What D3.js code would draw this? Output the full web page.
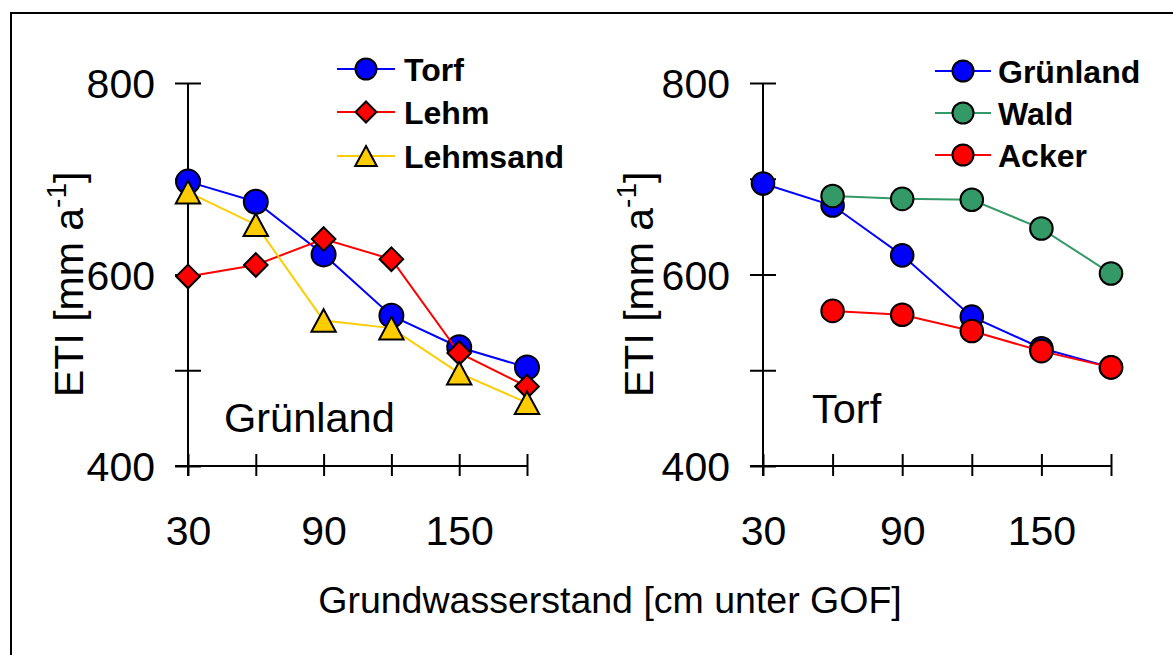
<!DOCTYPE html>
<html><head><meta charset="utf-8">
<script src="https://cdn.jsdelivr.net/npm/d3@7/dist/d3.min.js"></script>
<style>
html,body{margin:0;padding:0;background:#fff;overflow:hidden}
text{font-family:"Liberation Sans",Arial,sans-serif}
</style></head>
<body><svg id="c" width="1173" height="655"></svg>
<script>
// ---- data ----
const depths = [30, 60, 90, 120, 150, 180];
const xTickLabels = [30, 90, 150];
const yMajorTicks = [400, 600, 800];
const yAllTicks = [400, 500, 600, 700, 800];

// left panel: Grünland, by soil
const leftNames = ["Torf", "Lehm", "Lehmsand"];
const torf     = [697, 676, 621, 557, 524, 503];
const lehm     = [598, 610, 637, 616, 518, 483];
const lehmsand = [686, 652, 552, 544, 497, 466];

// right panel: Torf, by land use
const rightNames = ["Grünland", "Wald", "Acker"];
const gruenland = [695, 672, 620, 556, 523, 503];
const wald      = [null, 682, 679, 678, 648, 601];
const acker     = [null, 562, 558, 541, 520, 503];

const svg = d3.select("#c");
const FONT = '"Liberation Sans",Arial,sans-serif';

// outer frame
svg.append("rect").attr("x",11).attr("y",13).attr("width",1200).attr("height",700)
  .attr("fill","none").attr("stroke","#000").attr("stroke-width",2);

const y = d3.scaleLinear().domain([400,800]).range([466,83]);

function symbolPath(shape, s){
  if(shape==="diamond") return `M0,${-s}L${s},0L0,${s}L${-s},0Z`;
  if(shape==="triangle") return `M0,${-s}L${s*1.08},${s}L${-s*1.08},${s}Z`;
}
function drawMarker(g, shape, cx, cy, s, fill){
  if(shape==="circle"){
    g.append("circle").attr("cx",cx).attr("cy",cy).attr("r",s)
      .attr("fill",fill).attr("stroke","#000").attr("stroke-width",2);
  } else {
    g.append("path").attr("d",symbolPath(shape,s))
      .attr("transform",`translate(${cx},${cy})`)
      .attr("fill",fill).attr("stroke","#000").attr("stroke-width",2).attr("stroke-linejoin","miter");
  }
}

function panel(opts){
  const x = d3.scaleLinear().domain([30,180]).range(opts.xr);
  const g = svg.append("g");
  const x0 = opts.xr[0];

  // y axis
  const ya = d3.axisLeft(y).tickValues(yAllTicks)
    .tickFormat(d => yMajorTicks.includes(d) ? d : "").tickSize(13).tickPadding(20);
  const yg = g.append("g").attr("transform",`translate(${x0},0)`).call(ya);
  yg.select(".domain").remove();
  yg.selectAll(".tick line").attr("x1",-13).attr("x2",13).attr("stroke","#000").attr("stroke-width",2);
  yg.selectAll(".tick text").attr("font-size",41).attr("fill","#000").attr("font-family",FONT).attr("dy","0.36em");
  g.append("line").attr("x1",x0).attr("x2",x0).attr("y1",y(800)).attr("y2",476)
    .attr("stroke","#000").attr("stroke-width",2);

  // x axis
  const xa = d3.axisBottom(x).tickValues(depths)
    .tickFormat(d => xTickLabels.includes(d) ? d : "").tickSize(10).tickPadding(40);
  const xg = g.append("g").attr("transform",`translate(0,${y(400)})`).call(xa);
  xg.select(".domain").remove();
  xg.selectAll(".tick line").attr("y1",-12).attr("y2",10).attr("stroke","#000").attr("stroke-width",2);
  xg.selectAll(".tick text").attr("font-size",41).attr("fill","#000").attr("font-family",FONT);
  g.append("line").attr("x1",x0-13).attr("x2",opts.xr[1]).attr("y1",y(400)).attr("y2",y(400))
    .attr("stroke","#000").attr("stroke-width",2);

  // y title
  const t = g.append("text").attr("transform",`translate(${opts.ytx},397) rotate(-90)`)
    .attr("font-size",41).attr("fill","#000");
  t.append("tspan").text("ETI [mm a");
  t.append("tspan").attr("font-size",28).attr("dy",-17).text("-1");
  t.append("tspan").attr("dy",17).text("]");

  // annotation
  g.append("text").attr("x",opts.ann[0]).attr("y",opts.ann[1]).attr("font-size",41.5)
    .attr("fill","#000").text(opts.annText);

  // series
  opts.series.forEach(s => {
    const pts = depths.map((d,i)=>[d,s.values[i]]).filter(p=>p[1]!=null);
    g.append("path").datum(pts)
      .attr("d", d3.line().x(p=>x(p[0])).y(p=>y(p[1])))
      .attr("fill","none").attr("stroke",s.color).attr("stroke-width",2);
    pts.forEach(p => drawMarker(g, s.shape, x(p[0]), y(p[1]), s.size, s.fill));
  });

  // legend
  opts.series.forEach((s,i) => {
    const ly = opts.leg.ys[i];
    g.append("line").attr("x1",opts.leg.x1).attr("x2",opts.leg.x2).attr("y1",ly).attr("y2",ly)
      .attr("stroke",s.color).attr("stroke-width",2);
    drawMarker(g, s.shape, opts.leg.mx, ly, s.legSize, s.fill);
    g.append("text").attr("x",opts.leg.tx).attr("y",ly+11.5).attr("font-size",32)
      .attr("font-weight","bold").attr("fill","#000").text(s.name);
  });
}

panel({
  xr:[188,527], ytx:83, ann:[224,432], annText:"Grünland",
  leg:{x1:337,x2:395,mx:366,tx:404,ys:[69,112,156]},
  series:[
    {name:leftNames[0], values:torf, color:"#0000FF", fill:"#0000FF", shape:"circle", size:12, legSize:10.5},
    {name:leftNames[1], values:lehm, color:"#FF0000", fill:"#FF0000", shape:"diamond", size:11.8, legSize:10.5},
    {name:leftNames[2], values:lehmsand, color:"#FFCC00", fill:"#FFCC00", shape:"triangle", size:11.3, legSize:10}
  ]
});
panel({
  xr:[763,1111], ytx:653, ann:[812,423], annText:"Torf",
  leg:{x1:935,x2:991,mx:963,tx:998,ys:[71,113,155]},
  series:[
    {name:rightNames[0], values:gruenland, color:"#0000FF", fill:"#0000FF", shape:"circle", size:11.3, legSize:10.5},
    {name:rightNames[1], values:wald, color:"#339966", fill:"#339966", shape:"circle", size:11.3, legSize:10.5},
    {name:rightNames[2], values:acker, color:"#FF0000", fill:"#FF0000", shape:"circle", size:11.3, legSize:10.5}
  ]
});

// shared x title
svg.append("text").attr("x",610).attr("y",613).attr("text-anchor","middle")
  .attr("font-size",37.5).attr("fill","#000").text("Grundwasserstand [cm unter GOF]");
</script></body></html>
